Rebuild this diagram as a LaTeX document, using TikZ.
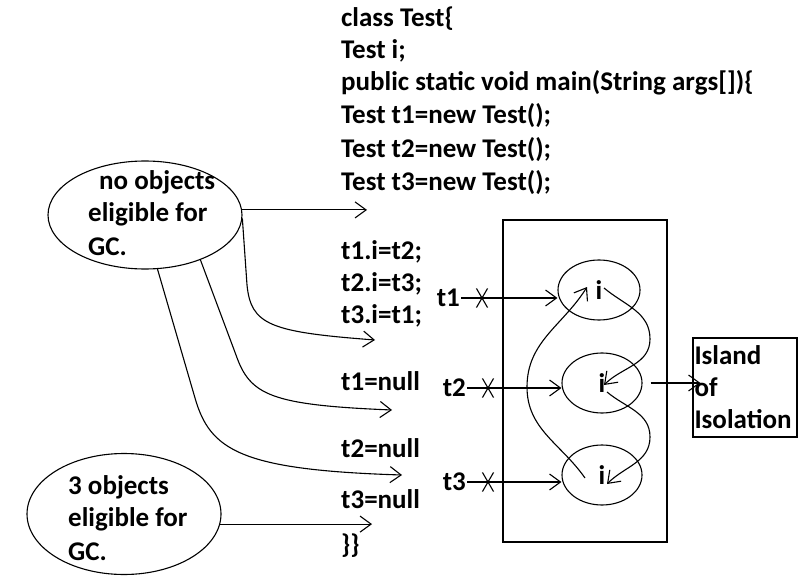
\documentclass[tikz,border=0pt]{standalone}
\usepackage{fontspec}
\setmainfont{Carlito}
\usetikzlibrary{shapes.geometric,shapes.misc,arrows.meta}
\begin{document}
\begin{tikzpicture}[x=1pt,y=-1pt,
  txt/.style={font=\fontsize{27}{32}\selectfont\bfseries},
  code/.style={txt,anchor=base west,inner sep=0pt},
  bubble/.style={draw,ellipse,line width=1.1pt,inner sep=0pt},
  obj/.style={draw,ellipse,line width=1.1pt,minimum width=80pt,minimum height=60pt,inner sep=0pt,txt},
  arr/.style={line width=1.1pt,-{Straight Barb[length=11pt,width=16pt,line width=1.1pt]}},
  xmark/.style={cross out,draw,line width=1.1pt,minimum width=10pt,minimum height=18pt,inner sep=0pt},
  tlabel/.style={txt,anchor=east,inner sep=1pt}
]
\useasboundingbox (0,0) rectangle (801,578);

% code
\node[code] (c1) at (341,27) {class Test\{};
\node[code] (c2) at (341,59) {Test i;};
\node[code] (c3) at (341,91) {public static void main(String args[])\{};
\node[code] (c4) at (341,123) {Test t1=new Test();};
\node[code] (c5) at (341,157) {Test t2=new Test();};
\node[code] (c6) at (341,190) {Test t3=new Test();};
\node[code] (c7) at (341,259) {t1.i=t2;};
\node[code] (c8) at (341,291) {t2.i=t3;};
\node[code] (c9) at (341,323) {t3.i=t1;};
\node[code] (c10) at (341,390) {t1=null};
\node[code] (c11) at (341,457) {t2=null};
\node[code] (c12) at (341,508) {t3=null};
\node[code] (c13) at (341,553) {\}\}};

% left bubbles
\node[bubble,minimum width=194pt,minimum height=108pt] (e1) at (145,215) {};
\node[code] (e1a) at (99,189) {no objects};
\node[code] (e1b) at (88,221) {eligible for};
\node[code] (e1c) at (88,255) {GC.};
\node[bubble,minimum width=194pt,minimum height=121pt] (e2) at (124,514) {};
\node[code] (e2a) at (68,494) {3 objects};
\node[code] (e2b) at (68,526) {eligible for};
\node[code] (e2c) at (68,560) {GC.};

\coordinate (g1) at (367,211);
\coordinate (g2) at (375,340);
\coordinate (g3) at (392,410);
\coordinate (g4) at (402,475);
\coordinate (g5) at (372,525);
\draw[arr] (e1.3) -- (e1.3 -| g1);
\draw[arr] (e1.-2) -- (247,285) .. controls (251,325) and (270,332) .. (g2);
\draw[arr] (e1.-39) -- (236,355) .. controls (250,395) and (270,405) .. (g3);
\draw[arr] (e1.-77) -- (195,398) .. controls (210,450) and (240,470) .. (g4);
\draw[arr] (e2.-6) -- (e2.-6 -| g5);

% frame with objects
\node[draw,line width=1.1pt,minimum width=164pt,minimum height=322pt,inner sep=0pt] (frame) at (585,381) {};
\node[obj,minimum width=82pt] (oa) at (599,290) {i};
\node[obj] (ob) at (602,383) {i};
\node[obj] (oc) at (602,475) {i};

\node[tlabel] (t1) at (461,298) {t1};
\node[tlabel] (t2) at (467,388) {t2};
\node[tlabel] (t3) at (467,482) {t3};
\node[xmark] (x1) at (482,298) {};
\node[xmark] (x2) at (488,388) {};
\node[xmark] (x3) at (488,482) {};
\draw[arr] (t1.east) -- (t1.east -| oa.west);
\draw[arr] (t2.east) -- (t2.east -| ob.west);
\draw[arr] (t3.east) -- (t3.east -| oc.west);

% island
\node[draw,line width=1.1pt,minimum width=104pt,minimum height=99pt,inner sep=1pt,text width=101pt,align=left,font=\fontsize{27}{32}\selectfont\bfseries] (island) at (745,387.5) {Island\\of\\Isolation};
\draw[arr] ([xshift=8pt]ob.east) -- ([xshift=8pt]ob.east -| island.west);

% references between objects
\coordinate (ab0) at (604,288);
\coordinate (ab1) at (650,339);
\coordinate (ab2) at (604,385);
\coordinate (bc0) at (607,392);
\coordinate (bc1) at (650,437);
\coordinate (bc2) at (607,484);
\coordinate (ca0) at (585,478);
\coordinate (ca1) at (527,387);
\coordinate (ca2) at (587,287);
\draw[arr] (ab0) to[out=-40,in=90] (ab1) to[out=-90,in=45] (ab2);
\draw[arr] (bc0) to[out=-40,in=90] (bc1) to[out=-90,in=45] (bc2);
\draw[arr] (ca0) to[out=125,in=-90] (ca1) to[out=90,in=-122] (ca2);
\end{tikzpicture}
\end{document}
